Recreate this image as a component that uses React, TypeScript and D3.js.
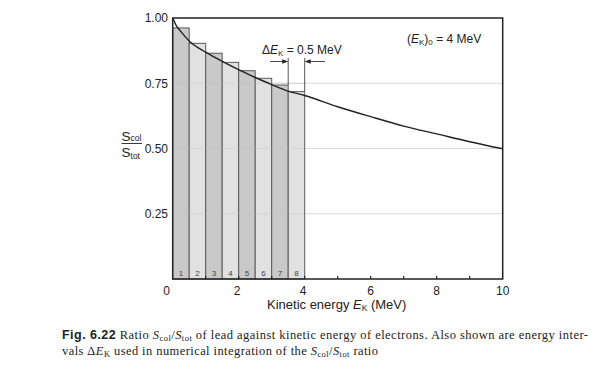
import React from 'react';
import * as d3 from 'd3';

const curveEnergy = [0, 0.1, 0.25, 0.5, 1, 1.5, 2, 2.5, 3, 3.5, 4, 5, 6, 7, 8, 9, 10];
const curveRatio = [1.0, 0.973, 0.948, 0.912, 0.869, 0.834, 0.802, 0.772, 0.745, 0.72, 0.703, 0.66, 0.622, 0.586, 0.556, 0.526, 0.499];
const barStart = [0, 0.5, 1, 1.5, 2, 2.5, 3, 3.5];
const barWidthMeV = 0.5;
const barRatio = [0.962, 0.903, 0.865, 0.83, 0.798, 0.769, 0.743, 0.718];
const barLabels = ['1', '2', '3', '4', '5', '6', '7', '8'];
const xTicks = [0, 2, 4, 6, 8, 10];
const xAllTicks = [1, 2, 3, 4, 5, 6, 7, 8, 9];
const yTicks = [0.25, 0.5, 0.75, 1.0];
const yTickLabels = ['0.25', '0.50', '0.75', '1.00'];
const gridValues = [0.25, 0.5, 0.75];

const W = 603;
const H = 377;
const left = 172.7;
const right = 502.7;
const top = 18;
const bottom = 279;

export default function App() {
  const x = d3.scaleLinear().domain([0, 10]).range([left, right]);
  const y = d3.scaleLinear().domain([0, 1]).range([bottom, top]);
  const pts: [number, number][] = curveEnergy.map((e, i) => [e, curveRatio[i]]);
  const line = d3
    .line<[number, number]>()
    .x((d) => x(d[0]))
    .y((d) => y(d[1]))
    .curve(d3.curveMonotoneX);
  const sans = 'Liberation Sans, Arial, sans-serif';
  const serif = 'Liberation Serif, Times New Roman, serif';
  const axisColor = '#222';
  const arrowY = 61.5;
  const xa = x(3.5);
  const xb = x(4);

  return (
    <svg
      width={W}
      height={H}
      viewBox={`0 0 ${W} ${H}`}
      style={{ position: 'absolute', left: 0, top: 0, background: '#fff' }}
    >
      <rect x={0} y={0} width={W} height={H} fill="#fff" />
      {/* gridlines */}
      {gridValues.map((g) => (
        <line key={g} x1={left} x2={right} y1={y(g)} y2={y(g)} stroke="#d9d9d9" strokeWidth={1.2} />
      ))}
      {/* bars */}
      {barStart.map((s, i) => (
        <g key={i}>
          <rect
            x={x(s)}
            y={y(barRatio[i])}
            width={x(s + barWidthMeV) - x(s)}
            height={y(0) - y(barRatio[i])}
            fill={i % 2 === 0 ? '#c9c9c9' : '#e1e1e1'}
            stroke="#5a5a5a"
            strokeWidth={1}
          />
          <text
            x={(x(s) + x(s + barWidthMeV)) / 2}
            y={bottom - 3}
            fontFamily={sans}
            fontSize={8}
            fill="#444"
            textAnchor="middle"
          >
            {barLabels[i]}
          </text>
        </g>
      ))}
      {/* gridlines faintly over bars */}
      {gridValues.map((g) => (
        <line key={'o' + g} x1={left} x2={x(4)} y1={y(g)} y2={y(g)} stroke="#bdbdbd" strokeOpacity={0.35} strokeWidth={1} />
      ))}
      {/* curve */}
      <path d={line(pts) || ''} fill="none" stroke="#222" strokeWidth={1.4} />
      {/* frame */}
      <rect x={left} y={top} width={right - left} height={bottom - top} fill="none" stroke={axisColor} strokeWidth={1.5} />
      {/* x minor ticks */}
      {xAllTicks.map((t) => (
        <line key={'t' + t} x1={x(t)} x2={x(t)} y1={bottom} y2={bottom - 3} stroke={axisColor} strokeWidth={1.2} />
      ))}
      {/* x tick labels */}
      {xTicks.map((t) => (
        <text
          key={'xl' + t}
          x={t === 0 ? x(t) - 6 : x(t) - (t === 2 || t === 4 ? 1.5 : 0)}
          y={295}
          fontFamily={sans}
          fontSize={12}
          fill="#222"
          textAnchor="middle"
        >
          {t}
        </text>
      ))}
      {/* y tick labels */}
      {yTicks.map((t, i) => (
        <text
          key={'yl' + t}
          x={168}
          y={y(t)}
          dy="0.36em"
          fontFamily={sans}
          fontSize={12}
          fill="#222"
          textAnchor="end"
        >
          {yTickLabels[i]}
        </text>
      ))}
      {/* y axis label fraction */}
      <text x={121.5} y={141} fontFamily={sans} fontSize={13.5} fill="#222">
        S<tspan fontSize={8.5}>col</tspan>
      </text>
      <line x1={121.5} x2={142} y1={143.5} y2={143.5} stroke="#222" strokeWidth={0.9} />
      <text x={121.5} y={157} fontFamily={sans} fontSize={13.5} fill="#222">
        S<tspan fontSize={8.5} dy={2}>tot</tspan>
      </text>
      {/* x axis title */}
      <text x={267} y={309} fontFamily={sans} fontSize={13} fill="#222">
        Kinetic energy <tspan fontStyle="italic">E</tspan>
        <tspan fontSize={8.5} dy={2}>K</tspan>
        <tspan dy={-2}> (MeV)</tspan>
      </text>
      {/* annotation: Delta E_K */}
      <line x1={xa} x2={xa} y1={58} y2={y(barRatio[6])} stroke="#444" strokeWidth={0.9} />
      <line x1={xb} x2={xb} y1={58} y2={y(barRatio[7])} stroke="#444" strokeWidth={0.9} />
      <line x1={270} x2={xa - 1} y1={arrowY} y2={arrowY} stroke="#333" strokeWidth={0.9} />
      <path d={`M${xa},${arrowY} L${xa - 6},${arrowY - 2.2} L${xa - 6},${arrowY + 2.2} Z`} fill="#222" />
      <line x1={xb + 1} x2={325} y1={arrowY} y2={arrowY} stroke="#333" strokeWidth={0.9} />
      <path d={`M${xb},${arrowY} L${xb + 6},${arrowY - 2.2} L${xb + 6},${arrowY + 2.2} Z`} fill="#222" />
      <text x={262} y={53.5} fontFamily={sans} fontSize={12} fill="#222">
        Δ<tspan fontStyle="italic">E</tspan>
        <tspan fontSize={8} dy={2}>K</tspan>
        <tspan dy={-2}> = 0.5 MeV</tspan>
      </text>
      <text x={407} y={43} fontFamily={sans} fontSize={12} fill="#222">
        (<tspan fontStyle="italic">E</tspan>
        <tspan fontSize={8} dy={2}>K</tspan>
        <tspan dy={-2}>)</tspan>
        <tspan fontSize={8} dy={2}>0</tspan>
        <tspan dy={-2}> = 4 MeV</tspan>
      </text>
      {/* caption */}
      <text x={62} y={339} fontFamily={serif} fontSize={12.5} fill="#222" textLength={526} lengthAdjust="spacing">
        <tspan fontFamily={sans} fontWeight="bold" fontSize={12.5}>Fig. 6.22</tspan>
        <tspan>{'  Ratio '}</tspan>
        <tspan fontStyle="italic">S</tspan>
        <tspan fontSize={8.5} dy={2}>col</tspan>
        <tspan dy={-2}>/</tspan>
        <tspan fontStyle="italic">S</tspan>
        <tspan fontSize={8.5} dy={2}>tot</tspan>
        <tspan dy={-2}> of lead against kinetic energy of electrons. Also shown are energy inter-</tspan>
      </text>
      <text x={62} y={355} fontFamily={serif} fontSize={12.5} fill="#222" textLength={316} lengthAdjust="spacing">
        <tspan>vals Δ</tspan>
        <tspan fontStyle="italic">E</tspan>
        <tspan fontSize={8.5} dy={2}>K</tspan>
        <tspan dy={-2}> used in numerical integration of the </tspan>
        <tspan fontStyle="italic">S</tspan>
        <tspan fontSize={8.5} dy={2}>col</tspan>
        <tspan dy={-2}>/</tspan>
        <tspan fontStyle="italic">S</tspan>
        <tspan fontSize={8.5} dy={2}>tot</tspan>
        <tspan dy={-2}> ratio</tspan>
      </text>
    </svg>
  );
}
